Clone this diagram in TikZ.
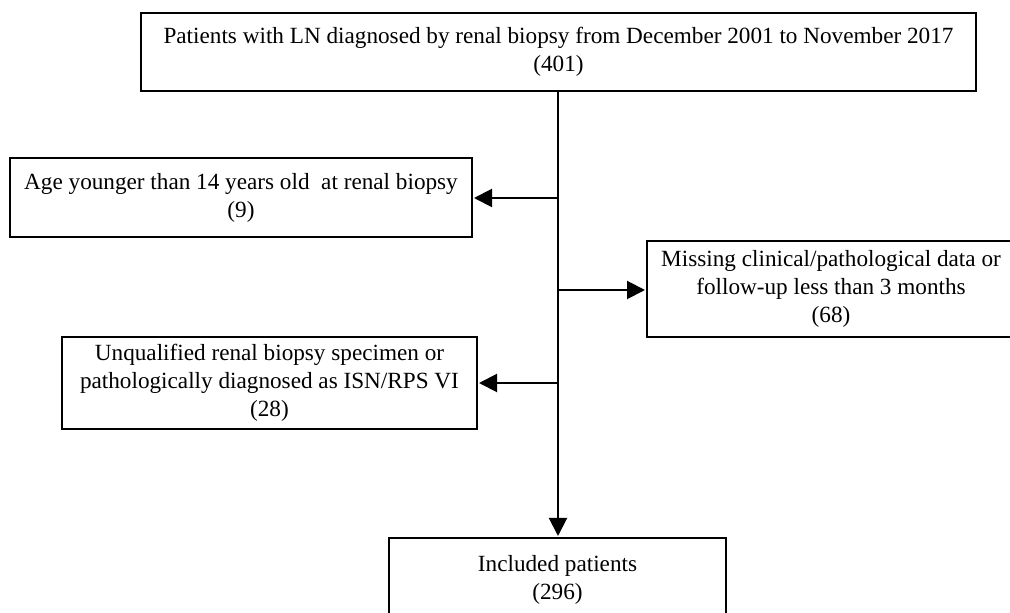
\documentclass[tikz,border=0pt]{standalone}
\usepackage{fontspec}
\setmainfont{Liberation Serif}
\usetikzlibrary{arrows.meta}
\begin{document}
\begin{tikzpicture}[x=1pt,y=1pt,
  box/.style={draw, line width=2pt, align=center, inner sep=0pt,
    font=\fontsize{23.2}{28}\selectfont},
  arr/.style={line width=2pt, -{Triangle[length=18pt,width=18pt]}, shorten >=1pt}]
\useasboundingbox (0,0) rectangle (1010,613);
\clip (0,0) rectangle (1010,613);
\fill[white] (0,0) rectangle (1010,613);
\node[box, minimum width=835pt, minimum height=78pt] (top) at (558.5,561)
  {Patients with LN diagnosed by renal biopsy from December 2001 to November 2017\\(401)};
\node[box, minimum width=462pt, minimum height=79pt] (age) at (241,415.5)
  {Age younger than 14 years old\ \ at renal biopsy\\(9)};
\node[box, minimum width=368pt, minimum height=96pt] (miss) at (831,324)
  {Missing clinical/pathological data or\\follow-up less than 3 months\\(68)};
\node[box, minimum width=415pt, minimum height=92pt] (unq) at (269.5,230)
  {Unqualified renal biopsy specimen or\\pathologically diagnosed as ISN/RPS VI\\(28)};
\node[box, minimum width=337pt, minimum height=84pt] (inc) at (557.5,33)
  {Included patients\\(296)};
\coordinate (b1) at (558,415);
\coordinate (b2) at (558,323);
\coordinate (b3) at (558,230);
\draw[arr] (top.south -| b1) -- (b1 |- inc.north);
\draw[arr] (b1) -- (b1 -| age.east);
\draw[arr] (b2) -- (b2 -| miss.west);
\draw[arr] (b3) -- (b3 -| unq.east);
\end{tikzpicture}
\end{document}
